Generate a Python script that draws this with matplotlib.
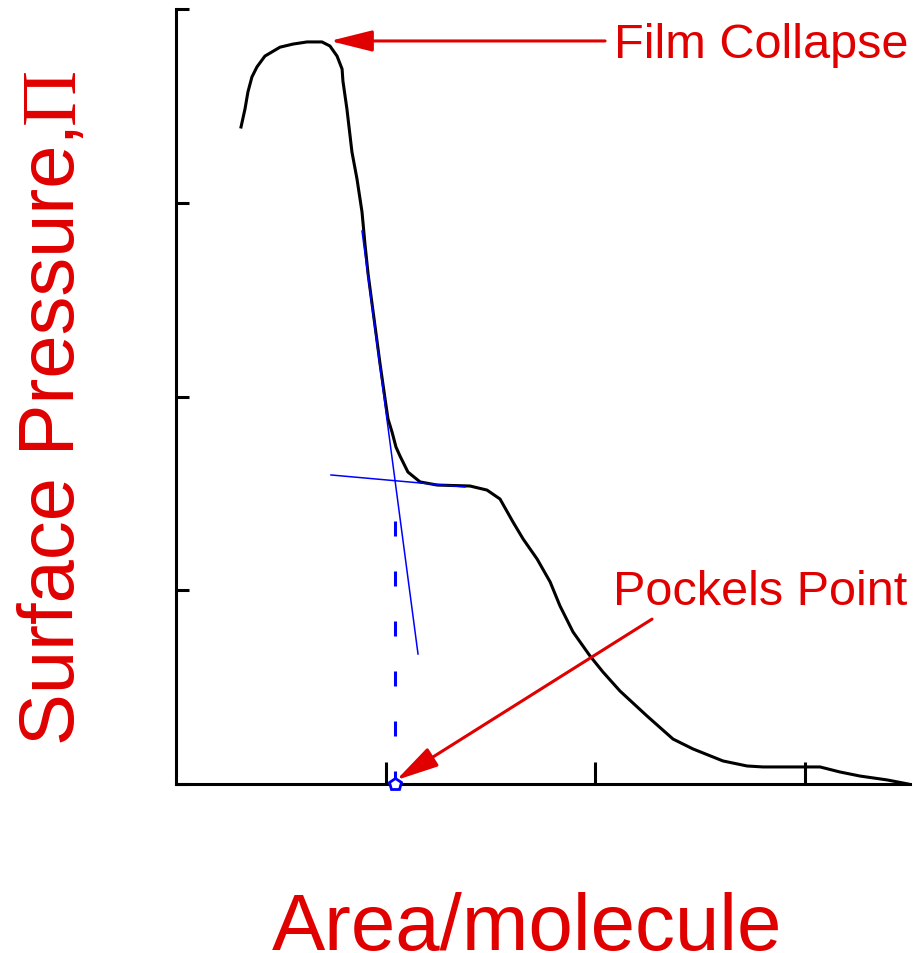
import matplotlib
matplotlib.use("Agg")
import matplotlib.pyplot as plt

# ---- data ----
area = [0.310, 0.329, 0.343, 0.362, 0.386, 0.424, 0.496, 0.558, 0.625, 0.696,
        0.734, 0.768, 0.792, 0.796, 0.815, 0.839, 0.863, 0.887, 0.901, 0.916,
        0.935, 0.954, 0.973, 0.997, 1.011, 1.030, 1.049, 1.068, 1.106, 1.164,
        1.245, 1.402, 1.483, 1.545, 1.607, 1.655, 1.722, 1.784, 1.831, 1.893,
        1.974, 2.036, 2.117, 2.246, 2.370, 2.465, 2.608, 2.723, 2.799, 3.071,
        3.166, 3.262, 3.391, 3.491]
pressure = [3.391, 3.484, 3.572, 3.649, 3.701, 3.757, 3.803, 3.819, 3.830, 3.830,
            3.809, 3.757, 3.690, 3.628, 3.484, 3.262, 3.123, 2.952, 2.787, 2.632,
            2.477, 2.323, 2.168, 1.987, 1.884, 1.817, 1.739, 1.693, 1.610, 1.559,
            1.543, 1.538, 1.517, 1.471, 1.352, 1.265, 1.161, 1.043, 0.919, 0.785,
            0.661, 0.578, 0.480, 0.351, 0.232, 0.181, 0.119, 0.093, 0.088, 0.088,
            0.062, 0.041, 0.021, 0.0]

steep_x = [0.887, 1.154]
steep_y = [2.854, 0.671]
flat_x = [0.739, 1.378]
flat_y = [1.595, 1.533]
pockels_x = 1.044
pockels_dash_top = 1.357
collapse_tip = (0.734, 3.835)
collapse_tail = (2.046, 3.835)
pockels_tip = (1.050, 0.020)
pockels_tail = (2.270, 0.851)

x_ticks = [1, 2, 3]
y_ticks = [0, 1, 2, 3, 4]

RED = "#E00000"
BLUE = "#0000FF"
W, H = 917, 954

plt.rcParams['lines.scale_dashes'] = False
fig = plt.figure(figsize=(W / 100, H / 100), dpi=100)
ax = fig.add_axes([176 / W, (H - 785) / H, (910 - 176) / W, (785 - 10) / H])
ax.set_xlim(0, 3.5)
ax.set_ylim(0, 4)

ax.plot(area, pressure, color="black", lw=2.2, solid_joinstyle="round", zorder=3)
ax.plot(steep_x, steep_y, color=BLUE, lw=1.1, zorder=4)
ax.plot(flat_x, flat_y, color=BLUE, lw=1.1, zorder=4)
ax.plot([pockels_x, pockels_x], [pockels_dash_top, 0], color=BLUE, lw=2.2,
        dashes=(10.8, 25.2), zorder=4)
ax.plot([pockels_x], [0], marker="p", ms=9, mfc="white", mec=BLUE, mew=2,
        clip_on=False, zorder=6)

arrow_style = "-|>,head_length=26,head_width=6.5"
for tip, tail in [(collapse_tip, collapse_tail), (pockels_tip, pockels_tail)]:
    ax.annotate("", xy=tip, xytext=tail,
                arrowprops=dict(arrowstyle=arrow_style, color=RED, lw=2.2,
                                shrinkA=0, shrinkB=0, mutation_scale=1),
                annotation_clip=False, zorder=5)

for s in ["top", "right"]:
    ax.spines[s].set_visible(False)
for s in ["left", "bottom"]:
    ax.spines[s].set_linewidth(2.2)
ax.set_xticks(x_ticks)
ax.set_yticks(y_ticks)
ax.set_xticklabels([])
ax.set_yticklabels([])
ax.tick_params(axis="x", direction="in", length=16, width=2.2)
ax.tick_params(axis="y", direction="in", length=9, width=2.2)

font = "Liberation Sans"
fig.text(614 / W, 1 - 58 / H, "Film Collapse", color=RED, fontsize=35,
         family=font, ha="left", va="baseline")
fig.text(613 / W, 1 - 605 / H, "Pockels Point", color=RED, fontsize=35,
         family=font, ha="left", va="baseline")
fig.text(527 / W, 1 - 950 / H, "Area/molecule", color=RED, fontsize=57.5,
         family=font, ha="center", va="baseline")

t1 = fig.text(74 / W, 1 - 745 / H, "Surface Pressure,", color=RED, fontsize=56,
              family=font, rotation=90, ha="left", va="baseline",
              rotation_mode="anchor")
fig.canvas.draw()
bb = t1.get_window_extent()
fig.text(74 / W, (bb.y1 - 1) / H, "\u03a0", color=RED, fontsize=56,
         family="Liberation Serif", rotation=90, ha="left", va="baseline",
         rotation_mode="anchor")

fig.savefig("out.png", dpi=100)
